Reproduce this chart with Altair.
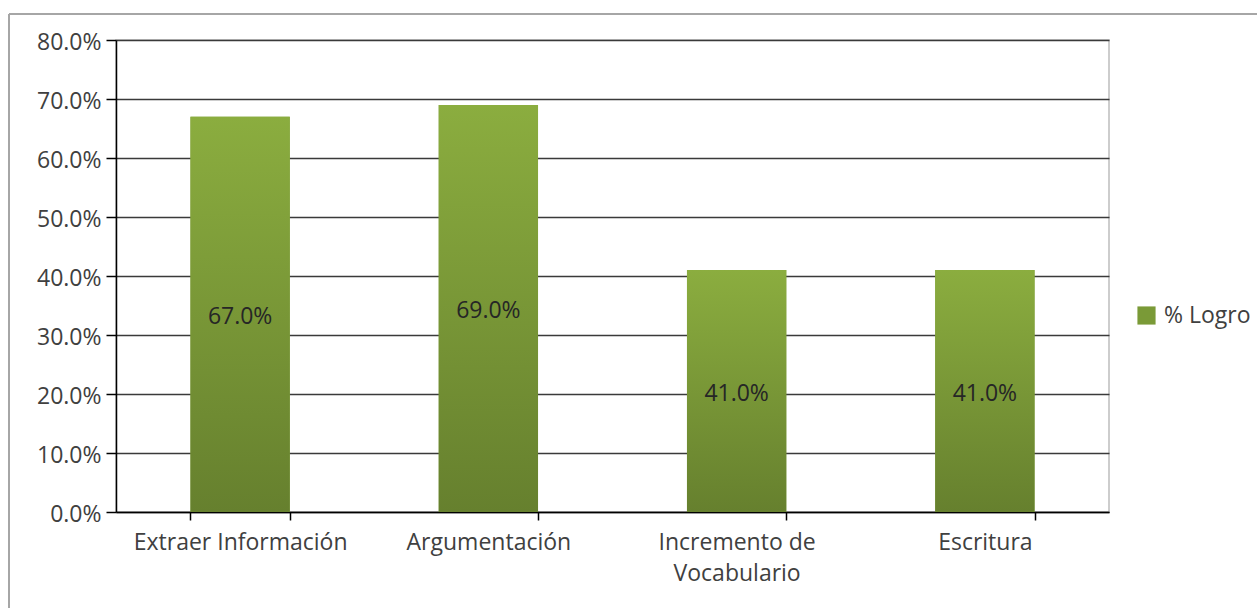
import altair as alt
import pandas as pd

categorias = ["Extraer Información", "Argumentación", "Incremento de Vocabulario", "Escritura"]
valores = [0.67, 0.69, 0.41, 0.41]
serie = "% Logro"
ticks_y = [0.0, 0.1, 0.2, 0.3, 0.4, 0.5, 0.6, 0.7, 0.8]

df = pd.DataFrame({"categoria": categorias, "valor": valores, "serie": [serie] * len(categorias)})

FONT = "Open Sans"
FS = 23
W, H = 993, 472

x_enc = alt.X(
    "categoria:N",
    sort=categorias,
    scale=alt.Scale(paddingInner=0.6, paddingOuter=0.3),
    axis=alt.Axis(
        title=None,
        labelAngle=0,
        tickBand="extent",
        tickSize=8,
        tickColor="#000000",
        tickWidth=1.5,
        domainColor="#000000",
        domainWidth=1.5,
        labelPadding=11,
        labelLimit=0,
        labelFont=FONT,
        labelFontSize=FS,
        labelColor="#404040",
        labelLineHeight=31,
        labelBaseline="top",
        grid=False,
        labelExpr="datum.value == 'Incremento de Vocabulario' ? ['Incremento de', 'Vocabulario'] : datum.value",
    ),
)

y_scale = alt.Scale(domain=[0, 0.8], nice=False)
y_enc = alt.Y(
    "valor:Q",
    scale=y_scale,
    axis=alt.Axis(
        title=None,
        values=ticks_y,
        format=".1%",
        grid=True,
        gridColor="#3a3a3a",
        gridWidth=1.5,
        tickSize=10,
        tickColor="#000000",
        tickWidth=1.5,
        domainColor="#000000",
        domainWidth=1.5,
        labelPadding=5,
        labelFont=FONT,
        labelFontSize=FS,
        labelColor="#404040",
        labelOffset=2,
    ),
)

gradiente = alt.Gradient(
    gradient="linear",
    stops=[
        alt.GradientStop(color="#8bad3f", offset=0),
        alt.GradientStop(color="#66802e", offset=1),
    ],
    x1=0, x2=0, y1=0, y2=1,
)

base = alt.Chart(df)

leyenda = base.mark_bar().encode(
    x=x_enc,
    y=alt.Y("valor:Q", scale=y_scale),
    y2=alt.datum(0),
    color=alt.Color(
        "serie:N",
        scale=alt.Scale(range=["#7a9a37"]),
        legend=alt.Legend(
            title=None,
            orient="none",
            legendX=1019,
            legendY=264,
            padding=0,
            symbolType="square",
            symbolSize=330,
            symbolStrokeWidth=0,
            labelFont=FONT,
            labelFontSize=FS,
            labelColor="#404040",
            labelOffset=6,
        ),
    ),
)

barras = base.mark_bar(fill=gradiente).encode(x=x_enc, y=y_enc)

etiquetas = base.mark_text(font=FONT, fontSize=FS, color="#262626", baseline="middle", dy=3).encode(
    x=alt.X("categoria:N", sort=categorias),
    y=alt.Y("mitad:Q", scale=y_scale),
    text=alt.Text("valor:Q", format=".1%"),
).transform_calculate(mitad="datum.valor / 2")

borde_izq = alt.Chart(df).mark_rule(color="#a6a6a6", strokeWidth=2).encode(
    x=alt.value(-107), y=alt.value(-26), y2=alt.value(700)
)
borde_sup = alt.Chart(df).mark_rule(color="#a6a6a6", strokeWidth=2).encode(
    x=alt.value(-107), x2=alt.value(1300), y=alt.value(-26)
)

chart = alt.layer(leyenda, barras, etiquetas, borde_izq, borde_sup).properties(
    width=W,
    height=H,
    autosize=alt.AutoSizeParams(type="none"),
    padding={"left": 116, "top": 40, "right": 148, "bottom": 96},
    background="#ffffff",
).configure_view(stroke="#bdbdbd", strokeWidth=1.5)

chart.save("out.html", embed_options={"renderer": "svg", "actions": False})
